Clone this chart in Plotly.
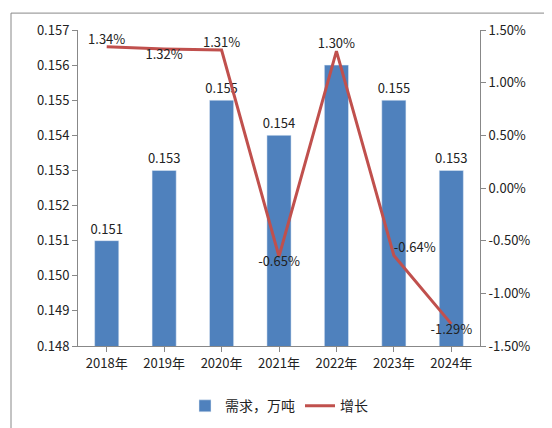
import plotly.graph_objects as go

years = ["2018年","2019年","2020年","2021年","2022年","2023年","2024年"]
demand = [0.151,0.153,0.155,0.154,0.156,0.155,0.153]
growth = [1.34,1.32,1.31,-0.65,1.30,-0.64,-1.29]
bar_label_pos = ["outside","outside","outside","outside","inside","outside","outside"]
line_label_pos = ["top center","bottom center","top center","bottom center","top center","top right","bottom center"]

L, R, T, B = 70, 80, 20, 90
W, H = 552, 428
pw, ph = W - L - R, H - T - B

fig = go.Figure()
fig.add_trace(go.Bar(x=years, y=demand, name="需求，万吨", marker_color="#4F81BD", width=0.42,
    text=[f"{v:.3f}" for v in demand], textposition=bar_label_pos, insidetextanchor="middle",
    constraintext="none",
    textfont=dict(size=13, color="#222"), cliponaxis=False))
fig.add_trace(go.Scatter(x=years, y=growth, name="增长", yaxis="y2", mode="lines+text",
    line=dict(color="#C0504D", width=3),
    text=[f"{v:.2f}%" for v in growth], textposition=line_label_pos,
    textfont=dict(size=13, color="#222"), cliponaxis=False))
fig.update_layout(
    width=W, height=H, paper_bgcolor="white", plot_bgcolor="white",
    margin=dict(l=L, r=R, t=T, b=B),
    font=dict(family="Noto Sans CJK SC, DejaVu Sans", size=13, color="#222"),
    bargap=0.5,
    yaxis=dict(range=[0.148,0.157], dtick=0.001, tickformat=".3f", showgrid=False,
               showline=True, linecolor="#888", ticks="outside", tickcolor="#888"),
    yaxis2=dict(range=[-1.5,1.5], overlaying="y", side="right", showgrid=False,
                tickvals=[-1.5,-1,-0.5,0,0.5,1,1.5],
                ticktext=["-1.50%","-1.00%","-0.50%","0.00%","0.50%","1.00%","1.50%"],
                showline=True, linecolor="#888", ticks="outside", tickcolor="#888"),
    xaxis=dict(showline=True, linecolor="#888", ticks="outside", tickcolor="#888"),
    legend=dict(orientation="h", x=0.5, xanchor="center", y=-0.14, yanchor="top", font=dict(size=14)),
    shapes=[dict(type="rect", xref="paper", yref="paper",
                 x0=-(L-3)/pw, x1=1+(R-4)/pw, y0=-(B-3)/ph, y1=1+(T-3)/ph,
                 line=dict(color="#888", width=1))],
)
fig.write_html("out.html")
